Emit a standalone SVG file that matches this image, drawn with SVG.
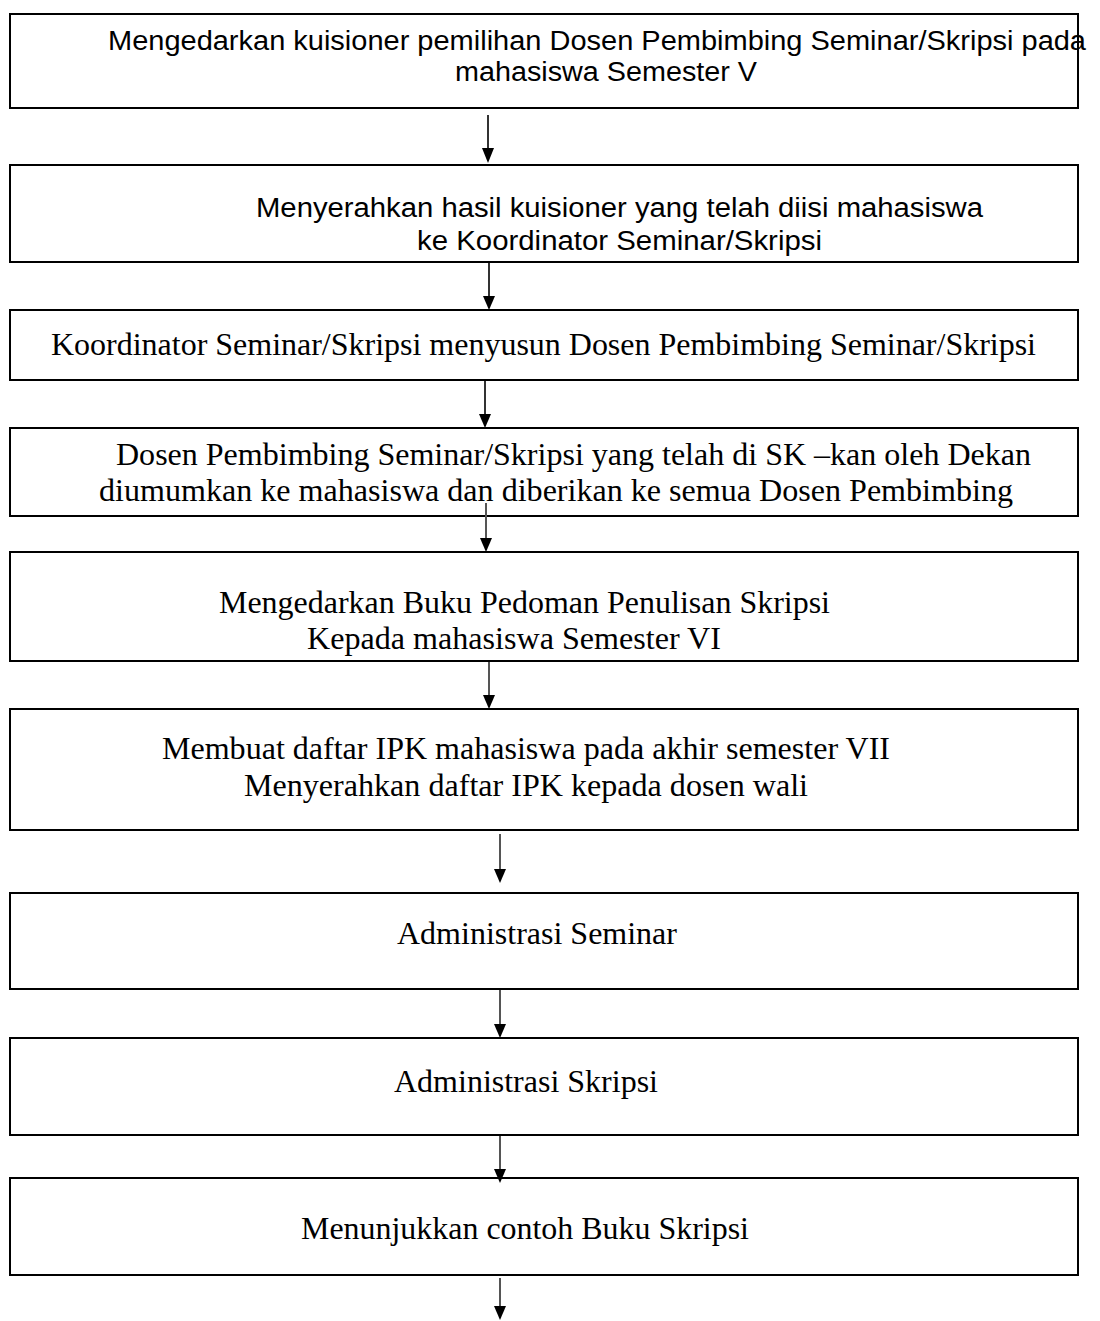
<svg xmlns="http://www.w3.org/2000/svg" width="1100" height="1321" viewBox="0 0 1100 1321">
<style>
.box{fill:#fff;stroke:#000;stroke-width:2}
.s{font-family:"Liberation Sans",Arial,sans-serif;font-size:27px;fill:#000}
.t{font-family:"Liberation Serif","Times New Roman",serif;font-size:30.5px;fill:#000}
.c1{stroke:#333;stroke-width:2}
.c2{stroke:#555;stroke-width:2}
</style>
<rect width="1100" height="1321" fill="#fff"/>
<g id="node1"><rect class="box" x="10" y="14" width="1068" height="94"/>
<text class="s" x="108" y="50" textLength="978" lengthAdjust="spacingAndGlyphs">Mengedarkan kuisioner pemilihan Dosen Pembimbing Seminar/Skripsi pada</text>
<text class="s" x="455" y="81" textLength="302" lengthAdjust="spacingAndGlyphs">mahasiswa Semester V</text></g>
<g id="node2"><rect class="box" x="10" y="165" width="1068" height="97"/>
<text class="s" x="256" y="217" textLength="727" lengthAdjust="spacingAndGlyphs">Menyerahkan hasil kuisioner yang telah diisi mahasiswa</text>
<text class="s" x="417" y="250" textLength="405" lengthAdjust="spacingAndGlyphs">ke Koordinator Seminar/Skripsi</text></g>
<g id="node3"><rect class="box" x="10" y="310" width="1068" height="70"/>
<text class="t" x="51" y="355" textLength="985" lengthAdjust="spacingAndGlyphs">Koordinator Seminar/Skripsi menyusun Dosen Pembimbing Seminar/Skripsi</text></g>
<g id="node4"><rect class="box" x="10" y="428" width="1068" height="88"/>
<text class="t" x="116" y="465" textLength="915" lengthAdjust="spacingAndGlyphs">Dosen Pembimbing Seminar/Skripsi yang telah di SK –kan oleh Dekan</text>
<text class="t" x="99" y="501" textLength="914" lengthAdjust="spacingAndGlyphs">diumumkan ke mahasiswa dan diberikan ke semua Dosen Pembimbing</text></g>
<g id="node5"><rect class="box" x="10" y="552" width="1068" height="109"/>
<text class="t" x="219" y="613" textLength="611" lengthAdjust="spacingAndGlyphs">Mengedarkan Buku Pedoman Penulisan Skripsi</text>
<text class="t" x="307" y="649" textLength="414" lengthAdjust="spacingAndGlyphs">Kepada mahasiswa Semester VI</text></g>
<g id="node6"><rect class="box" x="10" y="709" width="1068" height="121"/>
<text class="t" x="162" y="759" textLength="728" lengthAdjust="spacingAndGlyphs">Membuat daftar IPK mahasiswa pada akhir semester VII</text>
<text class="t" x="244" y="796" textLength="564" lengthAdjust="spacingAndGlyphs">Menyerahkan daftar IPK kepada dosen wali</text></g>
<g id="node7"><rect class="box" x="10" y="893" width="1068" height="96"/>
<text class="t" x="397" y="944" textLength="280" lengthAdjust="spacingAndGlyphs">Administrasi Seminar</text></g>
<g id="node8"><rect class="box" x="10" y="1038" width="1068" height="97"/>
<text class="t" x="394" y="1092" textLength="264" lengthAdjust="spacingAndGlyphs">Administrasi Skripsi</text></g>
<g id="node9"><rect class="box" x="10" y="1178" width="1068" height="97"/>
<text class="t" x="301" y="1239" textLength="448" lengthAdjust="spacingAndGlyphs">Menunjukkan contoh Buku Skripsi</text></g>
<g id="connectors" fill="#000">
<line class="c1" x1="488" y1="115" x2="488" y2="150"/><path d="M482,148 L494,148 L488,163 Z"/>
<line class="c1" x1="489" y1="263" x2="489" y2="298"/><path d="M483,296 L495,296 L489,310 Z"/>
<line class="c1" x1="485" y1="381" x2="485" y2="416"/><path d="M479,414 L491,414 L485,428 Z"/>
<line class="c2" x1="486" y1="503" x2="486" y2="540"/><path d="M480,538 L492,538 L486,552 Z"/>
<line class="c2" x1="489" y1="662" x2="489" y2="697"/><path d="M483,695 L495,695 L489,709 Z"/>
<line class="c2" x1="500" y1="834" x2="500" y2="871"/><path d="M494,869 L506,869 L500,883 Z"/>
<line class="c2" x1="500" y1="990" x2="500" y2="1026"/><path d="M494,1024 L506,1024 L500,1038 Z"/>
<line class="c2" x1="500" y1="1136" x2="500" y2="1171"/><path d="M494,1169 L506,1169 L500,1183 Z"/>
<line class="c2" x1="500" y1="1278" x2="500" y2="1308"/><path d="M494,1306 L506,1306 L500,1320 Z"/>
</g>
</svg>
